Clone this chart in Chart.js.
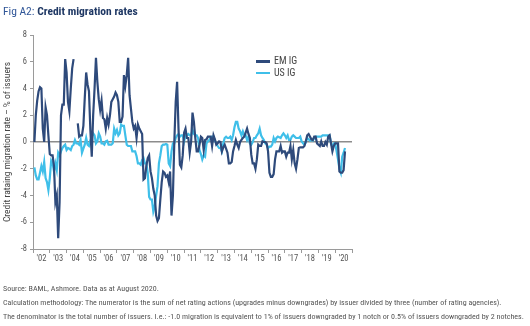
<!DOCTYPE html>
<html>
<head>
<meta charset="utf-8">
<script src="https://cdn.jsdelivr.net/npm/chart.js@4.4.0/dist/chart.umd.min.js"></script>
<style>
  html, body { margin: 0; padding: 0; background: #fff; }
  body {
    width: 530px; height: 326px; position: relative; overflow: hidden;
    font-family: "Liberation Sans Narrow", "Roboto Condensed", Roboto, sans-serif;
  }
  #chart { position: absolute; left: 0; top: 0; }
  .title { position: absolute; left: 3px; top: 4px; font-size: 11.5px; color: #2f5597; white-space: nowrap; }
  .title b { color: #1f3864; }
  .legend { position: absolute; left: 256px; top: 55px; font-size: 10px; color: #444; }
  .legend div { height: 11.5px; line-height: 11.5px; white-space: nowrap; }
  .legend span { display: inline-block; width: 14px; height: 2.5px; vertical-align: middle; margin-right: 4px; }
  .note { position: absolute; left: 3px; font-size: 8px; line-height: 9px; color: #555; white-space: nowrap; }
</style>
</head>
<body>
<canvas id="chart" width="530" height="326"></canvas>
<div class="title">Fig A2: <b>Credit migration rates</b></div>
<div class="legend">
  <div><span style="background:#2e4a7b"></span>EM IG</div>
  <div><span style="background:#3fbfe9"></span>US IG</div>
</div>
<div class="note" style="top:284px">Source: BAML, Ashmore. Data as at August 2020.</div>
<div class="note" style="top:298px">Calculation methodology: The numerator is the sum of net rating actions (upgrades minus downgrades) by issuer divided by three (number of rating agencies).</div>
<div class="note" style="top:312px">The denominator is the total number of issuers. I.e.: -1.0 migration is equivalent to 1% of issuers downgraded by 1 notch or 0.5% of issuers downgraded by 2 notches.</div>

<script>
// monthly series, first value is Feb 2002, last is Aug 2020
const firstYear = 2002;
const firstMonth = 2;

const emIG = [
  0, 2.0, 3.1, 3.8, 4.1, 4.0, 1.0, 0.0, 2.6, 2.0, 0.5,                       // 2002
  -0.9, -1.0, -1.0, -1.8, -4.5, -4.0, -7.2, -4.5, 2.0, 2.8, 2.8, 6.2,         // 2003
  5.2, 3.0, 2.3, 4.0, 5.5, 6.2, null, null, 1.4, 0.4, 0.5, 0.5,               // 2004
  1.2, 3.3, 5.2, 4.3, 3.8, 0.9, -1.1, 2.0, 4.0, 6.3, 4.5, 3.2,                // 2005
  2.4, 3.1, 1.8, 1.7, 1.0, 1.8, 1.3, 2.0, 3.0, 3.2, 3.4, 3.7,                 // 2006
  3.5, 3.0, 1.5, 1.5, 1.9, 5.0, 4.2, 5.0, 6.3, 3.5, 2.5, 1.5,                 // 2007
  1.0, 1.2, 0.3, 1.3, 1.0, 0.8, 0.6, -2.8, -2.7, -1.8, -1.2, -1.0,            // 2008
  -2.2, -2.7, -3.5, -4.0, -5.5, -5.9, -5.7, -4.3, -3.0, -2.2, -2.3, -2.6,     // 2009
  -2.5, -3.0, -2.2, -5.5, -4.0, 0.0, 3.0, 4.5, 1.0, -1.7, -1.9, -1.0,        // 2010
  0.7, 1.0, 0.3, 0.3, -0.8, 0.0, 2.2, 1.5, 0.3, -0.7, -0.7, -0.2,            // 2011
  0.4, 0.3, -0.6, 0.15, 0.2, 0.4, 0.4, 0.4, -0.3, 0.5, 0.2, -0.2,            // 2012
  -0.1, 0.05, 0.0, -0.7, -0.4, -0.2, -0.5, -0.8, -1.6, -1.6, -1.5, -0.7,     // 2013
  -0.3, 0.15, -0.2, -0.45, 0.0, 0.15, 0.3, 0.4, 0.7, 1.0, 0.6, 0.3,          // 2014
  -0.95, -1.6, -1.6, -2.0, -1.3, -0.2, -0.3, -0.3, 0.05, 0.0, 0.0, -0.1,     // 2015
  -0.7, -2.3, -2.6, -2.6, -2.4, -1.3, -0.7, -0.7, -0.7, -0.3, -0.8, -0.7,    // 2016
  -0.7, -1.1, -0.8, -0.8, -0.3, -1.3, -0.6, -1.6, -2.0, -1.3, -0.45, -0.4,   // 2017
  -0.4, -0.4, -0.3, 0.05, 0.5, 0.6, 0.4, 0.2, 0.15, 0.4, 0.4, -0.1,          // 2018
  -0.2, -0.3, 0.05, -0.3, -0.3, 0.0, -0.2, 0.4, 0.5, -0.1, -0.7, -0.3,       // 2019
  -0.1, -0.1, -0.1, -2.2, -2.3, -2.3, -2.1, -0.7                              // 2020
];

const usIG = [
  -1.9, -2.5, -2.8, -2.8, -2.3, -1.8, -2.2, -1.5, -2.7, -3.0, -3.6,           // 2002
  -2.7, -1.4, -1.6, -2.2, -1.6, -2.1, -0.8, -1.0, -0.7, -0.45, -0.3, -0.2,   // 2003
  -0.6, -0.45, -0.5, -0.6, -0.3, -0.2, 0.15, -0.1, -0.1, -0.2, 0.15, -0.8,   // 2004
  -0.5, -0.2, 0.3, -0.2, -0.3, 0.1, 0.4, 0.65, 0.5, -0.1, 0.05, 0.65,        // 2005
  0.4, -0.1, -0.1, -0.2, 0.05, 0.1, -0.2, -0.2, -0.2, -0.1, 1.0, 0.65,       // 2006
  0.9, 0.5, 0.65, 1.3, 1.2, 1.2, 0.5, -0.2, -0.3, -0.3, -0.3, -0.7,          // 2007
  -0.7, -0.7, -1.05, -1.6, -1.6, -1.7, -1.35, -1.2, -1.6, -1.6, -2.3, -4.1,  // 2008
  -4.3, -4.3, -5.2, -4.8, -4.0, -3.3, -1.6, -1.0, -0.3, -0.2, -0.2, -0.15,   // 2009
  -0.2, -1.6, -1.8, -0.7, -0.1, -0.1, 0.3, 0.5, 0.6, 0.4, 0.5, 0.5,          // 2010
  0.05, 0.5, 0.5, 0.6, 0.5, 0.5, 0.9, 0.6, 0.5, 0.5, 0.3, -0.6,              // 2011
  -0.9, -1.3, -1.0, -1.1, -0.1, 0.05, 0.15, 0.3, 0.4, 0.4, 0.1, -0.1,        // 2012
  -0.3, -0.45, -0.45, -0.7, -0.1, 0.3, 0.4, 0.3, 0.3, 0.4, 0.15, 0.5,        // 2013
  1.1, 1.5, 1.5, 1.0, 0.8, 0.5, 0.8, 0.5, 0.5, 0.15, 0.4, -0.1,              // 2014
  -0.2, 0.0, 0.3, 0.3, 0.5, 0.65, 1.0, 0.5, 0.3, 0.15, -0.1, -0.2,           // 2015
  -0.45, -0.35, -0.35, -0.2, 0.3, 0.05, 0.3, 0.4, 0.35, 0.3, 0.5, 0.65,      // 2016
  0.5, 0.3, 0.5, 0.15, 0.15, 0.4, 0.5, 0.4, 0.3, 0.3, 0.3, 0.4,              // 2017
  0.05, -0.1, -0.2, 0.0, 0.3, 0.2, 0.1, 0.15, 0.1, 0.3, 0.4, 0.4,            // 2018
  0.4, 0.4, 0.4, 0.5, 0.5, 0.5, 0.5, 0.5, 0.5, -0.1, -0.35, -0.1,            // 2019
  -0.1, -0.7, -1.3, -2.0, -2.3, -1.1, -0.8, -0.45                             // 2020
];

const yearLabels = ["'02", "'03", "'04", "'05", "'06", "'07", "'08", "'09", "'10",
  "'11", "'12", "'13", "'14", "'15", "'16", "'17", "'18", "'19", "'20"];

const yTicks = [-8, -6, -4, -2, 0, 2, 4, 6, 8];

// month index -> fractional year on the linear x scale
const toPoints = (values) =>
  values.map((v, i) => ({ x: firstYear + (firstMonth - 1 + i) / 12, y: v }));

const fontFamily = '"Liberation Sans Narrow", "Roboto Condensed", Roboto, sans-serif';
const axisGrey = '#9a9a9a';

new Chart(document.getElementById('chart'), {
  type: 'line',
  data: {
    datasets: [
      {
        label: 'EM IG',
        data: toPoints(emIG),
        borderColor: '#2e4a7b',
        borderWidth: 2.2,
        pointRadius: 0,
        spanGaps: false,
      },
      {
        label: 'US IG',
        data: toPoints(usIG),
        borderColor: '#3fbfe9',
        borderWidth: 2.2,
        pointRadius: 0,
      },
    ],
  },
  options: {
    responsive: false,
    animation: false,
    layout: { padding: { left: 0, top: 35, right: 178, bottom: 62 } },
    plugins: { legend: { display: false }, tooltip: { enabled: false } },
    scales: {
      x: {
        type: 'linear',
        min: firstYear,
        max: firstYear + yearLabels.length,
        ticks: {
          stepSize: 1,
          autoSkip: false,
          maxRotation: 0,
          labelOffset: 8.4, // year labels sit between the year ticks
          padding: 1,
          color: '#555',
          font: { family: fontFamily, size: 8.5 },
          callback: (v) => yearLabels[v - firstYear] || '',
        },
        grid: { drawOnChartArea: false, tickLength: 4, color: axisGrey },
        border: { color: axisGrey, width: 1 },
        afterFit: (s) => { s.height = 15; },
      },
      y: {
        min: yTicks[0],
        max: yTicks[yTicks.length - 1],
        afterBuildTicks: (s) => { s.ticks = yTicks.map((v) => ({ value: v })); },
        ticks: {
          padding: 3,
          color: '#555',
          font: { family: fontFamily, size: 8.5 },
        },
        grid: {
          tickLength: 3,
          tickColor: axisGrey,
          tickWidth: 1,
          color: (c) => (c.tick && c.tick.value === 0 ? '#8c8c8c' : 'rgba(0,0,0,0)'),
          lineWidth: (c) => (c.tick && c.tick.value === 0 ? 1.5 : 1),
        },
        border: { color: axisGrey, width: 1 },
        title: {
          display: true,
          text: 'Credit rataing migration rate – % of issuers',
          color: '#444',
          font: { family: fontFamily, size: 9.5 },
          padding: { top: 2, bottom: 0 },
        },
        afterFit: (s) => { s.width = 33; },
      },
    },
  },
});
</script>
</body>
</html>
